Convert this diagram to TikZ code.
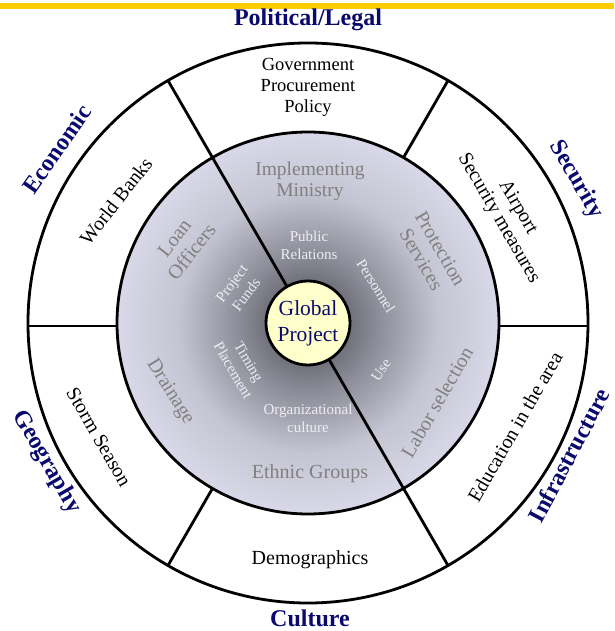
\documentclass[tikz,border=0pt]{standalone}
\usepackage{fontspec}
\setmainfont{Liberation Serif}
\definecolor{navyt}{RGB}{10,10,110}
\definecolor{barc}{RGB}{255,204,0}
\definecolor{sdk}{RGB}{70,70,78}
\definecolor{smd}{RGB}{140,140,152}
\definecolor{slt}{RGB}{196,196,210}
\definecolor{sed}{RGB}{216,216,232}
\definecolor{grayt}{RGB}{128,128,128}
\definecolor{whitet}{RGB}{238,238,242}
\definecolor{gpfill}{RGB}{255,255,204}
\pgfdeclareradialshading{ringshade}{\pgfpoint{0bp}{0bp}}{color(0bp)=(sdk); color(9bp)=(smd); color(17bp)=(slt); color(25bp)=(sed); color(50bp)=(sed)}
\tikzset{
  thick line/.style={line width=2.8pt, draw=black},
  titletxt/.style={font=\bfseries\fontsize{24}{28}\selectfont, text=navyt, inner sep=0pt},
  ringtxt/.style={font=\fontsize{20}{22}\selectfont, text=black, align=center, inner sep=0pt},
  inntxt/.style={font=\fontsize{20}{22}\selectfont, text=grayt, align=center, inner sep=0pt},
  smalltxt/.style={font=\fontsize{15}{18}\selectfont, text=whitet, align=center, inner sep=0pt},
}
\begin{document}
\begin{tikzpicture}[x=1pt,y=1pt]
\useasboundingbox (-308,-308) rectangle (306,323);
\fill[white] (-308,-308) rectangle (306,323);
% top bar
\fill[barc] (-308,314) rectangle (306,320);
% shaded inner disk
\shade[shading=ringshade] (0,0) circle (191);
% circles
\draw[thick line] (0,0) circle (280);
\draw[thick line] (0,0) circle (191);
% outer spokes
\draw[thick line] (-280,-3) -- (-191,-3);
\draw[thick line] (191,-3) -- (280,-3);
\draw[thick line] (60:191) -- (60:280);
\draw[thick line] (240:191) -- (240:280);
% diameter through centre
\draw[thick line] (120:40) -- (120:280);
\draw[thick line] (300:40) -- (300:280);
% centre
\node[circle, minimum size=84pt, inner sep=0pt, fill=gpfill, thick line, font=\fontsize{21.5}{26}\selectfont, text=navyt, align=center] (gp) at (0,0) {Global\\Project};
% titles
\node[titletxt] (t1) at (0,303) {Political/Legal};
\node[titletxt, rotate=55] (t2) at (-251,174) {Economic};
\node[titletxt, rotate=-60] (t3) at (268,143) {Security};
\node[titletxt, rotate=62] (t4) at (261,-132) {Infrastructure};
\node[titletxt] (t5) at (2,-295) {Culture};
\node[titletxt, rotate=-60] (t6) at (-261.5,-139) {Geography};
% ring texts
\node[ringtxt, font=\fontsize{18.5}{21}\selectfont] (r1) at (0,236) {Government\\Procurement\\Policy};
\node[ringtxt, rotate=-60] (r2) at (200,110) {Airport\\Security measures};
\node[ringtxt, rotate=60] (r3) at (207,-104) {Education in the area};
\node[ringtxt] (r4) at (2,-237) {Demographics};
\node[ringtxt, rotate=-60] (r5) at (-209,-114) {Storm Season};
\node[ringtxt, rotate=52] (r6) at (-192,122) {World Banks};
% inner texts
\node[inntxt, font=\fontsize{19.5}{21}\selectfont] (i1) at (2,141.5) {Implementing\\Ministry};
\node[inntxt, rotate=-60] (i2) at (123,69) {Protection\\Services};
\node[inntxt, rotate=60] (i3) at (129,-79) {Labor selection};
\node[inntxt] (i4) at (2,-151) {Ethnic Groups};
\node[inntxt, rotate=-58] (i5) at (-138,-69) {Drainage};
\node[inntxt, rotate=52] (i6) at (-125,78) {Loan\\Officers};
% small white texts
\node[smalltxt] (s1) at (1,78) {Public\\Relations};
\node[smalltxt, rotate=-58] (s2) at (68,37) {Personnel};
\node[smalltxt, rotate=55] (s3) at (73,-47) {Use};
\node[smalltxt] (s4) at (0,-95) {Organizational\\culture};
\node[smalltxt, rotate=-60] (s5) at (-67,-43) {Timing\\Placement};
\node[smalltxt, rotate=53] (s6) at (-69,34) {Project\\Funds};
\end{tikzpicture}
\end{document}
